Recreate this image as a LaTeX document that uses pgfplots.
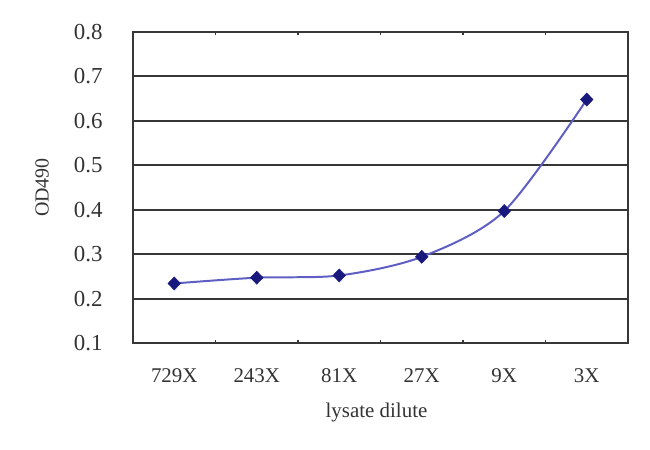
\documentclass[border=0pt]{standalone}
\usepackage{fontspec}
\setmainfont{Liberation Serif}
\usepackage{pgfplots}
\pgfplotsset{compat=1.18}
\definecolor{linec}{RGB}{95,95,195}
\definecolor{markc}{RGB}{25,25,125}
\definecolor{gridc}{RGB}{55,55,55}
\begin{document}
\begin{tikzpicture}[x=1bp,y=1bp]
\useasboundingbox (0,0) rectangle (650,450);
\begin{axis}[
  at={(133bp,107bp)}, anchor=south west,
  scale only axis, width=495bp, height=311bp,
  xmin=-0.5, xmax=5.5, ymin=0.1, ymax=0.8,
  xtick={0,1,2,3,4,5},
  xticklabels={729X,243X,81X,27X,9X,3X},
  ytick={0.1,0.2,0.3,0.4,0.5,0.6,0.7,0.8},
  yticklabel style={/pgf/number format/fixed,/pgf/number format/precision=1,/pgf/number format/zerofill},
  /pgf/number format/assume math mode=true,
  ymajorgrids, major grid style={gridc, line width=2pt},
  axis line style={gridc, line width=2pt},
  major tick length=0pt,
  extra x ticks={0.5,1.5,2.5,3.5,4.5},
  extra x tick labels={},
  extra x tick style={major tick length=3bp, tick style={gridc,line width=1.5pt}, grid=none},
  tick align=inside,
  xticklabel style={font=\fontsize{21}{22}\selectfont, text=black!80, anchor=center, yshift=-33bp},
  yticklabel style={font=\fontsize{23}{24}\selectfont, text=black!80, anchor=east, xshift=-27bp},
  xlabel={lysate dilute},
  xlabel style={font=\fontsize{21}{22}\selectfont, text=black!80, at={(axis description cs:0.5,0)}, anchor=center, yshift=-70bp, xshift=-4bp},
  ylabel={OD490},
  ylabel style={font=\fontsize{20}{22}\selectfont, text=black!80, at={(axis description cs:0,0.5)}, anchor=center, yshift=91bp},
  clip=false,
]
\addplot[color=linec, line width=2pt, smooth, tension=0.5,
  mark=diamond*, mark size=6.5bp, mark options={xscale=1.3, fill=markc, draw=markc, line width=0.5pt}]
  coordinates {(0,0.234) (1,0.247) (2,0.252) (3,0.294) (4,0.397) (5,0.648)};
\end{axis}
\end{tikzpicture}
\end{document}
